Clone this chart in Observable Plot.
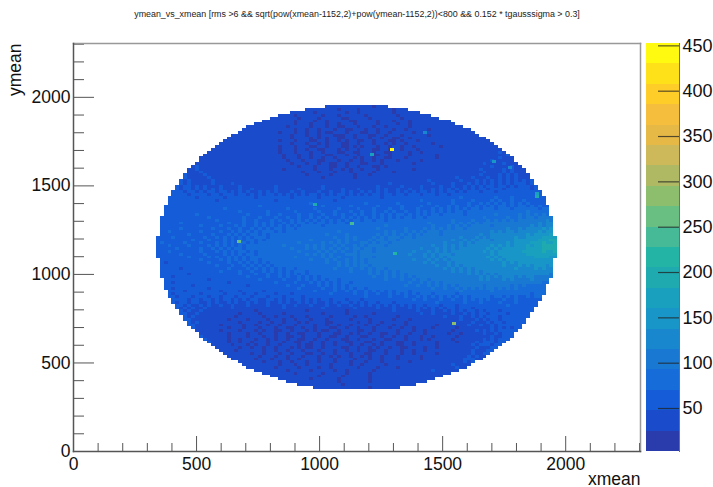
<!DOCTYPE html>
<html>
<head>
<meta charset="utf-8">
<script src="https://cdn.jsdelivr.net/npm/d3@7"></script>
<script src="https://cdn.jsdelivr.net/npm/@observablehq/plot@0.6"></script>
<style>
body{margin:0;background:#fff;font-family:"Liberation Sans",Arial,sans-serif}
#wrap{position:relative;width:713px;height:487px;overflow:hidden}
#wrap svg{position:absolute;top:0;max-width:none;background:transparent}
.soft{filter:blur(0.4px)}
</style>
</head>
<body>
<div id="wrap"></div>
<script>
const titleText = "ymean_vs_xmean [rms >6 && sqrt(pow(xmean-1152,2)+pow(ymean-1152,2))<800 && 0.152 * tgausssigma > 0.3]";
const xLabel = "xmean", yLabel = "ymean";
const axisMax = 2304, binSize = 16, centre = 1152, radius = 810;
const majorTicks = [0, 500, 1000, 1500, 2000];
const minorTicks = [100,200,300,400,600,700,800,900,1100,1200,1300,1400,1600,1700,1800,1900,2100,2200,2300];
const zMin = 2.6, bandWidth = 22.5;
const zTicks = [50,100,150,200,250,300,350,400,450];
const palette = ["#2a3cab","#1a4bca","#145cd8","#166cd8","#1979d2","#1987cd","#1996c8","#19a0be","#1eaaaf","#23b4a5","#46b996","#69be82","#8cbe6e","#afb964","#cdb95a","#e6b946","#f5be3c","#ffcd28","#ffe119","#fffa0f"];
// isolated hot bins
const hotX = [1297,1215,1134,984,675,1309,1549,1431,1711,1776,1886,1886];
const hotY = [1703,1675,1286,1393,1184,1117,722,1800,1636,1602,1455,1439];
const hotLevel = [19,7,10,8,11,9,12,5,6,5,7,8];
// bin colour bands, top row to bottom row, each row centred on x = 1152
const rows = [
"1111111111 110111",
"1111111101 1110111111 110111",
"1111110111 1111011011 1111110111 111",
"1111011111 1011101111 1101111111 011111111",
"1111111011 1101111100 1111101111 1110111111 111",
"1111111101 1110110111 1100111110 1110111011 11111111",
"1111111111 0111011101 1011101111 1011110110 1111111111 1",
"1111111111 0111110111 0110011101 1101101111 1011111111 11111",
"1111111111 1110110110 1110110011 1011011101 1011111011 11111111",
"1111111111 1011101101 1010011101 1100110110 1111101111 1111111111 1",
"1111111111 1111101110 1101110001 1011100110 1110111111 0111111111 111",
"1111111111 1111110111 1010101100 1101110110 1100110111 1111111111 111111",
"1111111111 1111011101 1100110110 1011001101 1100101110 1111111111 11111111",
"1111111111 1111111101 1101101011 1001101110 1101011011 1111011111 1111111111",
"1111111111 1111110111 0111001101 1100101011 1011011011 0111111011 1111111111 11",
"1111111111 1111111011 1011011001 1101011011 1001101101 1101111111 1111111111 1111",
"1111111111 1111111101 1101110110 1110011001 1101100111 1011011111 1111111111 111121",
"1111111111 1111111111 0111011011 1001110110 1110011011 1101111110 1111111111 11111112",
"1111111111 1111111111 1011101101 1011011110 1011011001 1101111111 0111111111 1111112111",
"1111111111 1111111111 1110111011 1001110110 1101101011 1011111011 1111111111 1111121111 1",
"1111111111 1111111111 1111101110 1101100110 1110011101 1111110111 1111111111 1111211112 111",
"1211111111 1111111111 1111111011 1011100110 1101110010 1111111111 1111111111 1111112111 1211",
"1121111111 1111111111 1111011111 1101110110 1011011101 1111111011 1111111111 1111211111 212111",
"1111211111 1111111111 1111111111 0111011101 1101111101 1110111111 1111111111 1111112111 1212111",
"2111121111 1111111111 1111111111 1011111011 1110111011 1111111111 1111111111 1111121111 21212111",
"1211111211 1111111111 1111111111 1111110111 1111011111 1111111111 1111111111 2111211121 121212111",
"2121111121 1111111111 1111111111 1111111111 1111111111 1111111111 1112111111 1211121212 1212121212",
"2212111112 1111211111 1111111111 1111111111 1111111111 1111211111 1111121111 2111212121 2121212221 2",
"2122121211 1211112111 1111121111 1111111211 1111111111 1211111211 1121111211 2112121212 2122121222 12",
"2212212121 2121111211 2111112111 1121111121 1112111211 1121211211 2112112121 2121212122 1222122222 212",
"2221221212 2122121212 1121212111 2112111211 2112121121 2121211212 1212212121 2212122212 2212222222 2222",
"2222212222 1221222122 1212122121 2121212212 1212212121 2122122122 1222122212 2122222222 2222222222 22222",
"2222222122 2222122222 2212222222 2122222212 2222122222 2222122222 2222222222 2222322222 2223222322 222222",
"2222222222 2212222222 2222222122 2222222222 2212222222 2222222222 2222322222 2232222322 2232322322 322222",
"2222222222 2222222222 2222222222 2222222322 2222222222 2322222223 2222222322 2223222322 3232323232 3232222",
"2222222222 2222222222 2222322222 2222222222 3222222322 2222322222 3222232223 2232322323 2323233232 33232322",
"2222222222 2222232222 2222222222 2322222232 2222322223 2223222322 3222322232 3232323233 2333233323 33333233",
"2222222222 2222222222 3222222322 2222322222 3222322232 2322322323 2232232323 2323233233 3333333333 333433333",
"2222222223 2222222222 2232222322 3222232232 2322323223 2322323232 3323232323 3233333233 3333343333 343434343",
"2222222222 2232222222 2322232223 2232232232 3232223232 3232323232 3233233233 3333333333 3343333343 3434434444",
"2222222222 2222322222 2322322232 3223232323 2323232323 3233233233 3333333333 3333433334 3334343434 3444444454",
"2222232222 2222222322 2322323232 2323233232 3323233233 3333333333 3333333343 3333434343 4344444444 4444445455",
"2222222222 3222232223 2322323232 3232323333 3233333333 3333333433 3333333334 3334343434 4444344444 4444545455",
"2222232222 2223222322 3223232323 3233233333 3333333333 3333343333 3343333434 3434344344 4444444454 4545555656",
"22232222222 3222232232 3232323332 3233333333 3333343333 3333333434 3343434344 4344444444 4444545455 45555565666",
"22222222322 2223222323 2323323233 3333333333 3343333433 3333343434 3434343444 4344444444 4544555555 55565666677",
"22223222222 2322323232 3232333233 3333333333 3333433434 3333434344 4344344444 4444445444 5454555555 65566667777",
"22222222232 2232223232 3233232333 3333333343 3333343434 3334344344 3444444444 4444544545 4555455555 66666677788",
"23222223222 3222323232 3323233333 3333343333 3434343433 3443434434 4444444444 4454445454 5555555565 66667778778",
"22232222322 2232323232 3233333333 3433333434 3433434334 3434444344 4444444445 4454545455 5555656565 66676778888",
"22222322222 3223232323 3233333333 3334333434 3434343434 4344344444 4444445444 5454545555 5556565666 66677778888",
"22232222222 3222323232 3323233333 3333343333 4343434334 3444344444 4444544454 5454555555 5565656666 66777778778",
"22222232222 2322223232 3233233333 3333333434 3434333444 3444444444 4445444545 4555455555 5555656666 66677777777",
"22222222322 2232322323 2323333333 3333433333 3434343334 3444344444 4444444545 4545555555 5556565666 66666777766",
"22222222222 3222232323 2323323333 3333333343 3343433434 3434444444 4444544454 5454555555 5555656566 66666666666",
"22122222222 2232222322 3232323233 3333333333 3343343434 3434444444 4444444545 4445455555 5555555656 56666666666",
"2222222222 2222322232 2323232323 3333333333 3333343434 3443444444 4444444444 5445454555 5555555655 5656566656",
"2222212222 2222222322 2232323232 3233233333 3333433343 3434344344 4444444444 4454545454 5555555555 6555565655",
"2222222222 2222232222 3223223232 3232333233 3333333343 3334343434 3444444444 4444545454 5455555555 5555555555",
"2222222122 2222222222 3222322322 3232323233 3333333333 3334343434 3434444444 4444444454 5454545555 5555555554",
"2221222222 2222222222 2232222322 3232232323 2333333333 3333433434 3434344444 4444444444 4545454555 4545544444",
"2222222222 2122222222 2222322222 3222323232 3233233333 3333334333 4334344344 4444444444 5454445454 44454444",
"2212222222 2222221222 2222222232 2223222323 2323233233 3333333333 3343343434 3444444444 4444444444 44444433",
"2222222122 2222222222 2122222222 2322232223 2323232333 3333333333 3433433434 3434344444 4344444434 3433333",
"2212222222 2122222222 2222222222 2222322222 3223232323 3233333333 3333333343 3433434343 4344343434 3333333",
"2222122222 2221222212 2222122222 2222222322 2232232322 3232323233 3233333333 3333433333 3343333333 333333",
"2122222212 2222122221 2212222122 2122222222 2322222322 3223223232 3232333233 3332333333 3333333333 332333",
"2212221222 1221222122 2122212221 2222122222 2222222222 3222223222 3223232323 2323232333 3323323232 23233",
"2222122122 1212212121 2211221212 1221212122 1222122212 2222222222 2322322232 2322323232 3222322322 2222",
"2122122112 1211212112 1211211212 1121212112 1212212121 2212221222 2222222322 2222322232 2223222322 222",
"2212112121 1211211121 1112111211 2111211121 1211211212 1212121212 1221222122 2122222222 2222322222 22",
"2121211211 1111211111 1111111211 1111111211 1111121111 1211121112 1212121212 2122212222 2222222222 2",
"2121121111 1111111110 1111111111 1101111111 1101111111 1111211111 2111211212 1212212122 2122222222",
"2211211111 1111101111 0111110111 1111110111 1101111110 1111111111 1211211112 1121212212 222122222",
"2121111111 1110111111 0110111011 1011111011 1110110111 1111011111 1111112111 2112121222 12222222",
"2211111111 1011110111 1011101101 1101110111 1101111011 1110111011 1111111111 2111212122 1222222",
"2121111111 1110111101 1011011101 0111100111 1110110110 1111101111 1111111111 1121112122 122222",
"2211111101 1111011011 0110111011 1101101101 1011101101 1101101111 1110111111 1211211212 22222",
"2111111110 1110111011 1011001101 1011100110 1101110111 0110110111 1011111011 1111112121 2122",
"2111111011 1101110101 1001101110 1010011011 1100110111 1101110110 1111110111 1121212122 222",
"2111111101 1110110111 0110110011 1011100110 1011011001 1011011101 1111011011 1112112122 2",
"2111111011 1101110110 1100110111 0110011011 1001110110 1101110110 1111101111 1111211222",
"2111110110 1110110101 1011001101 1011100110 1110110011 1011101011 1110111111 12121222",
"2111101101 1011101110 1100110110 1101100111 0011011100 1101111101 1110111121 222122",
"1111101110 1011011011 1101001101 1011101101 1010111001 1011111011 1111112122 2122",
"1111110110 1101101110 1010011011 1100110110 1011011001 1110110111 1111112111 22",
"1111011111 1011011011 1011101110 1101101100 1101110110 1101111111 1111211122",
"1111111011 0111011011 1001101101 1101110011 1011101101 1111011111 11121122",
"1111111101 1101101110 1110110101 1011010110 1110111110 1111111111 121211",
"1111110111 0111011011 1101110111 1011101101 1101111101 1111111112 2211",
"1111111011 1011011101 1011101110 1110111011 1111011111 1111111121 2",
"1111111111 0111011011 1110111101 1011111011 1111111111 111121111",
"1111111011 1110111101 1011111101 1110111101 1111111111 111211",
"1111111110 1111101111 1011011111 1011111111 1111112111 111",
"1111111110 1111110111 1101111101 1111111111 1111111111",
"1111111111 1111011111 0111111011 1111111111 1111111",
"1111111111 0111111011 1111101111 1111111111 111",
"1111111111 1111101111 1110111111 111111111",
"1111111111 1110111111 1111111111 111",
"1111111111 1111110111 111111"
];

const levelValue = l => zMin + (l + 0.5) * bandWidth;
const bins = [];
rows.forEach((row, r) => {
  const s = row.replace(/ /g, "");
  const start = Math.floor((1600 / binSize - s.length) / 2);
  const top = centre + 800 - r * binSize;
  [...s].forEach((c, j) => {
    const x1 = centre - 800 + (start + j) * binSize;
    const cx = x1 + binSize / 2, cy = top - binSize / 2;
    if (Math.hypot(cx - centre, cy - centre) < radius)
      bins.push({x1, x2: x1 + binSize, y1: top - binSize, y2: top, v: levelValue(+c)});
  });
});
const hot = hotX.map((x, i) => ({x1: x - binSize / 2, x2: x + binSize / 2, y1: hotY[i] - binSize / 2, y2: hotY[i] + binSize / 2, v: levelValue(hotLevel[i])}));

const thresholds = d3.range(1, palette.length).map(i => zMin + i * bandWidth);
const colorScale = {type: "threshold", domain: thresholds, range: palette};
const bands = palette.map((_, i) => zMin + i * bandWidth);

const left = 73, right = 73, top_ = 43, bottom = 36, W = 713, H = 487;
const plotW = W - left - right, plotH = H - top_ - bottom;
const dark = "#555", light = "#999";
const fs = 17.5;

const main = Plot.plot({
  width: W, height: H,
  marginLeft: left, marginRight: right, marginTop: top_, marginBottom: bottom,
  style: {background: "transparent", fontFamily: '"Liberation Sans",Arial,sans-serif'},
  x: {domain: [0, axisMax], axis: null},
  y: {domain: [0, axisMax], axis: null},
  color: colorScale,
  marks: [
    Plot.rect(bins, {x1: "x1", x2: "x2", y1: "y1", y2: "y2", fill: "v", shapeRendering: "crispEdges", className: "soft"}),
    Plot.rect(hot, {x1: "x1", x2: "x2", y1: "y1", y2: "y2", fill: "v", shapeRendering: "crispEdges", className: "soft"}),
    Plot.ruleX(minorTicks, {x: d => d, insetTop: plotH - 8, stroke: dark}),
    Plot.ruleX(majorTicks, {x: d => d, insetTop: plotH - 15, stroke: dark}),
    Plot.ruleY(minorTicks, {y: d => d, insetRight: plotW - 11, stroke: dark}),
    Plot.ruleY(majorTicks, {y: d => d, insetRight: plotW - 21, stroke: dark}),
    Plot.frame({anchor: "top", stroke: light, strokeWidth: 1.5}),
    Plot.frame({anchor: "right", stroke: light, strokeWidth: 1.5}),
    Plot.frame({anchor: "left", stroke: dark, strokeWidth: 1.5}),
    Plot.frame({anchor: "bottom", stroke: dark, strokeWidth: 1.5}),
    Plot.axisX(majorTicks, {anchor: "bottom", tickSize: 0, tickPadding: 6, fontSize: fs, label: null, tickFormat: d => String(d), fill: "#111"}),
    Plot.axisY(majorTicks, {anchor: "left", tickSize: 0, tickPadding: 3, fontSize: fs, label: null, tickFormat: d => String(d), fill: "#111"}),
    Plot.text([xLabel], {frameAnchor: "bottom-right", dy: 27.5, lineAnchor: "middle", textAnchor: "end", fontSize: fs, fill: "#111"}),
    Plot.text([yLabel], {frameAnchor: "top-left", dx: -65, rotate: -90, textAnchor: "end", fontSize: fs, fill: "#111"}),
    Plot.text([titleText], {frameAnchor: "top", dy: -33, fontSize: 8.9, fill: "#222"})
  ]
});
main.style.left = "0px";

const barW = 67;
const bar = Plot.plot({
  width: barW, height: H,
  marginLeft: 0, marginRight: 34, marginTop: top_, marginBottom: bottom,
  style: {background: "transparent", fontFamily: '"Liberation Sans",Arial,sans-serif'},
  x: {domain: [0, 1], axis: null},
  y: {domain: [zMin, zMin + palette.length * bandWidth], axis: null},
  color: colorScale,
  marks: [
    Plot.rect(bands, {x1: 0, x2: 1, y1: d => d, y2: d => d + bandWidth, fill: d => d + bandWidth / 2, shapeRendering: "crispEdges"}),
    Plot.ruleY(zTicks, {y: d => d, insetLeft: 12, stroke: "#222", strokeOpacity: 0.75, strokeWidth: 1.2}),
    Plot.frame({anchor: "right", stroke: "#333", strokeOpacity: 0.7}),
    Plot.axisY(zTicks, {anchor: "right", tickSize: 0, tickPadding: 3, fontSize: 18, label: null, tickFormat: d => String(d), fill: "#111"})
  ]
});
bar.style.left = "646px";

document.getElementById("wrap").append(main, bar);
</script>
</body>
</html>
